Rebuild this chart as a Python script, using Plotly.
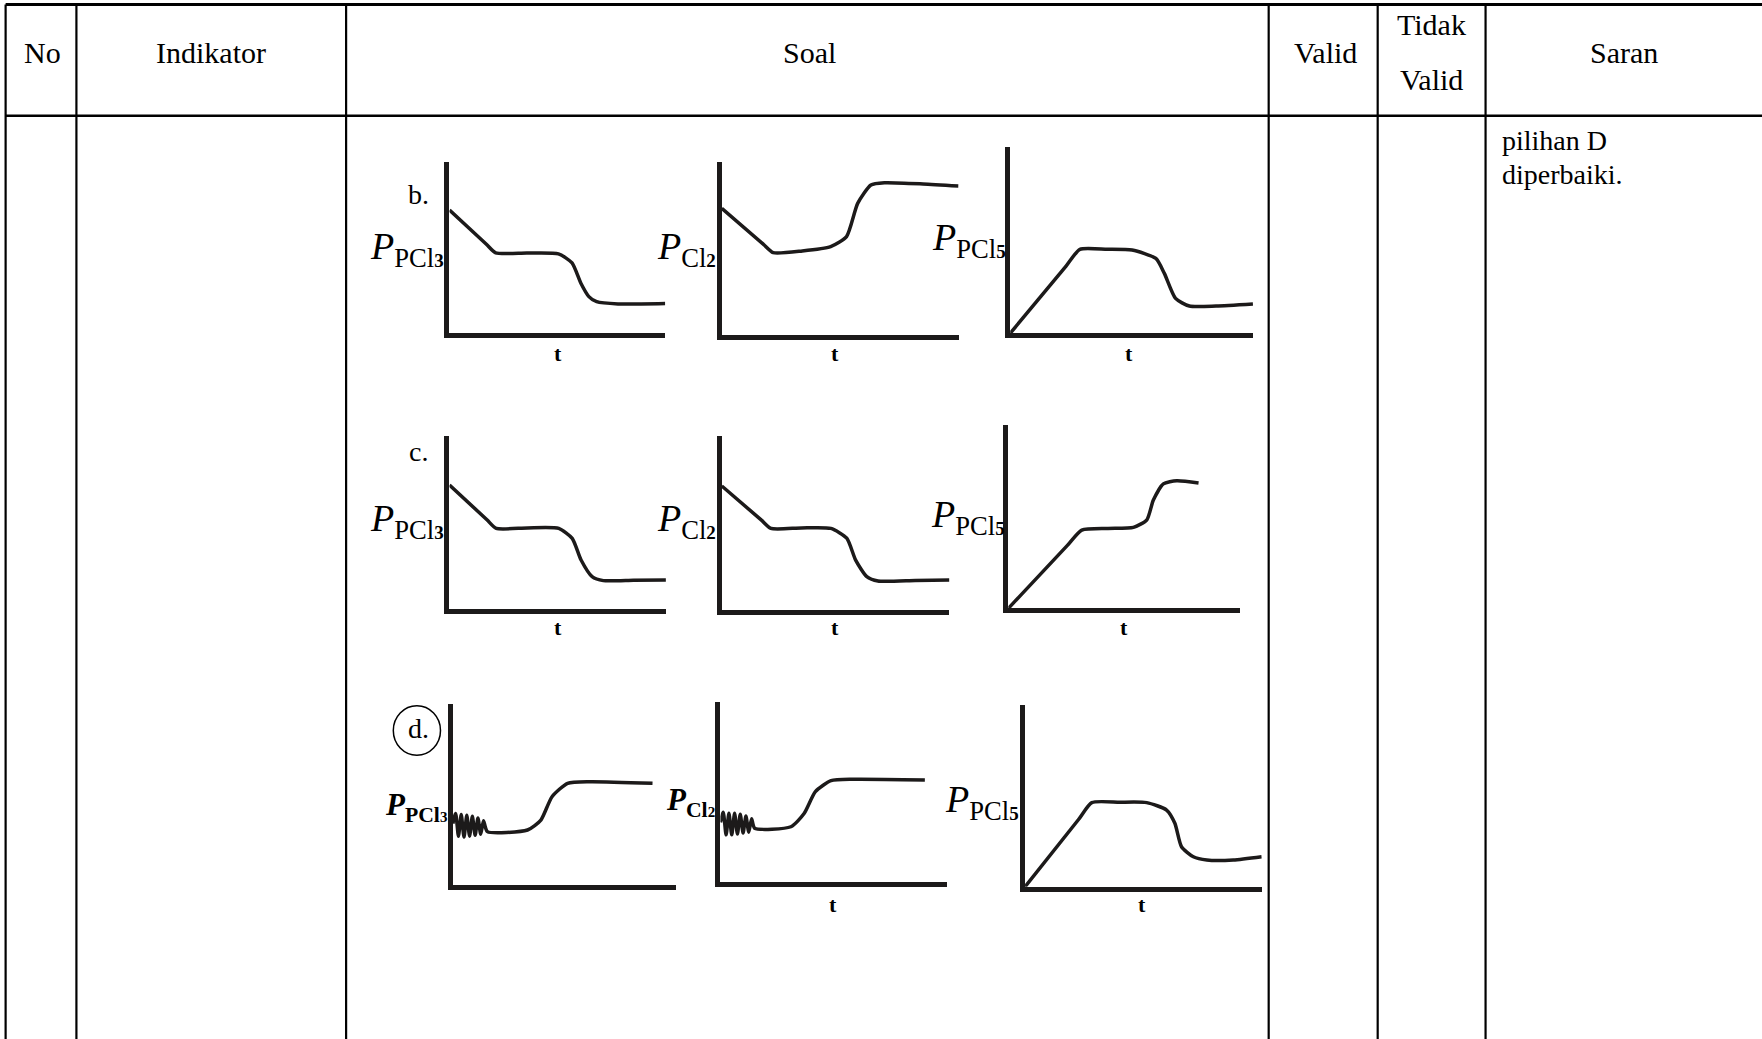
import plotly.graph_objects as go

W, H = 1762, 1039
S = W / 1568.0  # layout positions below are measured on a 1568-wide copy


def px(x):
    return x * S / W


def py(y):
    return 1 - y * S / H


# ---------------- data ----------------
header_labels = ["No", "Indikator", "Soal", "Valid", "Tidak", "Valid", "Saran"]
saran_lines = ["pilihan D", "diperbaiki."]
option_labels = ["b.", "c.", "d."]
time_label = "t"


def plabel(species, digit, dsize, bold=False):
    txt = ("<i>P</i><sub>" + species
           + "<span style='font-size:%dpx'><b>%s</b></span></sub>" % (dsize, digit))
    return "<b>" + txt + "</b>" if bold else txt


ylab_b = [plabel("PCl", "3", 19), plabel("Cl", "2", 19), plabel("PCl", "5", 19)]
ylab_c = [plabel("PCl", "3", 19), plabel("Cl", "2", 19), plabel("PCl", "5", 19)]
ylab_d = [plabel("PCl", "3", 15, True), plabel("Cl", "2", 15, True), plabel("PCl", "5", 19)]

# option b
b1_t = [0.0, 1.71, 2.14, 3.6, 5.05, 5.68, 6.09, 6.46, 6.82, 7.81, 10.0]
b1_p = [7.17, 5.17, 4.67, 4.66, 4.61, 4.08, 2.89, 2.11, 1.81, 1.68, 1.71]
b2_t = [0.0, 1.74, 2.17, 3.4, 4.6, 5.27, 5.74, 6.3, 6.87, 8.5, 10.0]
b2_p = [7.31, 5.26, 4.75, 4.85, 5.10, 5.68, 7.60, 8.66, 8.79, 8.72, 8.60]
b3_t = [0.0, 2.30, 2.87, 4.0, 5.02, 6.0, 6.35, 6.81, 7.38, 8.48, 10.0]
b3_p = [0.0, 3.60, 4.50, 4.50, 4.46, 4.01, 3.21, 1.87, 1.46, 1.46, 1.57]
# option c
c1_t = [0.0, 1.73, 2.16, 3.6, 5.05, 5.67, 6.08, 6.59, 7.11, 8.5, 10.0]
c1_p = [7.17, 5.17, 4.67, 4.70, 4.67, 4.10, 2.85, 1.89, 1.66, 1.68, 1.70]
c2_t = [0.0, 1.73, 2.16, 3.5, 4.79, 5.49, 5.88, 6.37, 6.86, 8.5, 10.0]
c2_p = [7.13, 5.18, 4.69, 4.72, 4.69, 4.13, 2.87, 1.92, 1.67, 1.70, 1.73]
c3_t = [0.0, 2.54, 3.17, 4.3, 5.4, 5.98, 6.26, 6.69, 7.27, 8.21]
c3_p = [0.0, 3.42, 4.27, 4.36, 4.42, 4.83, 5.91, 6.79, 6.96, 6.84]
# option d
d1_t = [0.00, 0.125, 0.25, 0.375, 0.50, 0.625, 0.75, 0.875, 1.00, 1.125, 1.25, 1.375,
        1.55, 3.35, 3.95, 4.45, 5.15, 6.15, 8.96]
d1_p = [3.4, 3.95, 2.7, 3.9, 2.65, 3.85, 2.7, 3.8, 2.75, 3.7, 2.8, 3.55,
        2.95, 3.04, 3.59, 4.88, 5.62, 5.71, 5.62]
d2_t = [0.00, 0.125, 0.25, 0.375, 0.50, 0.625, 0.75, 0.875, 1.00, 1.125, 1.25, 1.375,
        1.51, 3.11, 3.70, 4.19, 4.88, 5.87, 9.02]
d2_p = [3.3, 3.85, 2.6, 3.8, 2.6, 3.8, 2.65, 3.75, 2.7, 3.65, 2.75, 3.5,
        2.97, 3.05, 3.80, 5.0, 5.61, 5.69, 5.65]
d3_t = [0.0, 2.26, 2.82, 4.0, 5.14, 5.98, 6.33, 6.61, 7.11, 7.68, 8.80, 10.0]
d3_p = [0.0, 3.70, 4.63, 4.65, 4.63, 4.22, 3.49, 2.20, 1.65, 1.47, 1.47, 1.65]

curves = [(b1_t, b1_p), (b2_t, b2_p), (b3_t, b3_p),
          (c1_t, c1_p), (c2_t, c2_p), (c3_t, c3_p),
          (d1_t, d1_p), (d2_t, d2_p), (d3_t, d3_p)]
ylabels = ylab_b + ylab_c + ylab_d
show_t = [True, True, True, True, True, True, False, True, True]

# ---------------- layout (positions) ----------------
# frames: x0 (y-axis), x1 (x-axis end), yt (y-axis top), yb (x-axis)
frames = [
    (400, 592, 144, 296), (642.3, 853, 144, 298), (899, 1115, 130.5, 296.6),
    (400, 592.6, 388, 542.3), (642.3, 844.9, 388, 542.9), (897.3, 1103.5, 378.2, 541.4),
    (403, 601.3, 626.5, 787.6), (641.1, 842.8, 624.4, 784.6), (912.2, 1122.8, 627.4, 789.1),
]
ylabel_pos = [(397, 222), (639, 222), (897, 214),
              (397, 464), (639, 464), (896, 460),
              (400, 718), (638, 714), (909, 714)]
ylabel_size = [38, 38, 38, 38, 38, 38, 31, 31, 38]
tlabel_pos = [(497, 315), (743, 315), (1005, 315),
              (497, 558), (743, 558), (1000, 558),
              None, (741, 805), (1016, 805)]
option_pos = [(372, 173), (372, 402), (372, 648)]

FONT = "Liberation Serif, Times New Roman, serif"
INK = "#1c1a1a"

fig = go.Figure()
layout = dict(
    width=W, height=H, margin=dict(l=0, r=0, t=0, b=0),
    paper_bgcolor="white", plot_bgcolor="rgba(0,0,0,0)",
    showlegend=False, hovermode=False,
)

annotations = []
for i, ((t, p), (x0, x1, yt, yb)) in enumerate(zip(curves, frames)):
    k = i + 1
    sx = "" if k == 1 else str(k)
    fig.add_trace(go.Scatter(
        x=t, y=p, mode="lines", xaxis="x" + sx, yaxis="y" + sx,
        line=dict(color=INK, width=3.5, shape="spline", smoothing=0.6),
    ))
    layout["xaxis" + sx] = dict(
        domain=[px(x0), px(x1)], anchor="y" + sx, range=[0, 10],
        showline=True, linecolor=INK, linewidth=4.5, showgrid=False,
        zeroline=False, showticklabels=False, ticks="", fixedrange=True,
    )
    layout["yaxis" + sx] = dict(
        domain=[py(yb), py(yt)], anchor="x" + sx, range=[0, 10],
        showline=True, linecolor=INK, linewidth=4.5, showgrid=False,
        zeroline=False, showticklabels=False, ticks="", fixedrange=True,
    )
    lx, ly = ylabel_pos[i]
    annotations.append(dict(
        x=px(lx), y=py(ly), xref="paper", yref="paper", text=ylabels[i],
        showarrow=False, xanchor="right", yanchor="middle",
        font=dict(family=FONT, size=ylabel_size[i], color="black"),
    ))
    if show_t[i]:
        tx, ty = tlabel_pos[i]
        annotations.append(dict(
            x=px(tx), y=py(ty), xref="paper", yref="paper",
            text="<b>" + time_label + "</b>", showarrow=False,
            xanchor="center", yanchor="middle",
            font=dict(family=FONT, size=22, color="black"),
        ))

for lab, (ox, oy) in zip(option_labels, option_pos):
    annotations.append(dict(
        x=px(ox), y=py(oy), xref="paper", yref="paper", text=lab,
        showarrow=False, xanchor="center", yanchor="middle",
        font=dict(family=FONT, size=28, color="black"),
    ))

# header texts
head_pos = [(38, 47), (188, 47), (720, 47), (1180, 47), (1274, 22), (1274, 71), (1445, 47)]
for lab, (hx, hy) in zip(header_labels, head_pos):
    annotations.append(dict(
        x=px(hx), y=py(hy), xref="paper", yref="paper", text=lab,
        showarrow=False, xanchor="center", yanchor="middle",
        font=dict(family=FONT, size=30, color="black"),
    ))
for lab, sy in zip(saran_lines, [125, 155]):
    annotations.append(dict(
        x=px(1335), y=py(sy), xref="paper", yref="paper", text=lab,
        showarrow=False, xanchor="left", yanchor="middle",
        font=dict(family=FONT, size=28, color="black"),
    ))

# table grid
shapes = []
line = dict(color="black", width=2.2)
shapes.append(dict(type="line", xref="paper", yref="paper",
                   x0=px(5), x1=1, y0=py(4), y1=py(4), line=dict(color="black", width=3)))
shapes.append(dict(type="line", xref="paper", yref="paper",
                   x0=px(5), x1=1, y0=py(103), y1=py(103), line=dict(color="black", width=2.6)))
for vx in [5, 68, 308, 1129, 1226, 1322]:
    shapes.append(dict(type="line", xref="paper", yref="paper",
                       x0=px(vx), x1=px(vx), y0=py(4), y1=0, line=line))
# circle around "d."
shapes.append(dict(type="circle", xref="paper", yref="paper",
                   x0=px(350), x1=px(392), y0=py(672), y1=py(628),
                   line=dict(color="black", width=1.5)))

layout["annotations"] = annotations
layout["shapes"] = shapes
fig.update_layout(**layout)
fig.write_html("out.html", config={"displayModeBar": False},
               post_script="document.body.style.margin='0';")
